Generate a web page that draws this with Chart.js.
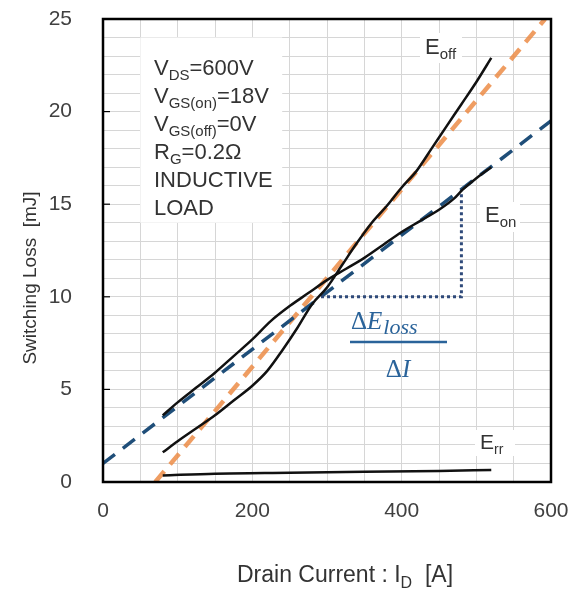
<!DOCTYPE html>
<html>
<head>
<meta charset="utf-8">
<script src="https://cdn.jsdelivr.net/npm/chart.js@4"></script>
<style>
  html, body { margin: 0; padding: 0; background: #fff; }
  canvas { display: block; }
</style>
</head>
<body>
<canvas id="lossChart" width="571" height="590"></canvas>
<script>
// drain current [A] / switching loss [mJ]
const currentOff = [80, 100, 125, 150, 175, 200, 220, 240, 260, 280, 300, 320, 340, 360, 380, 400, 420, 440, 460, 480, 500, 520];
const lossOff = [1.6, 2.2, 2.9, 3.6, 4.4, 5.2, 6.0, 7.1, 8.3, 9.6, 10.5, 11.7, 12.9, 14.0, 14.9, 15.9, 16.8, 18.0, 19.2, 20.4, 21.6, 22.9];

const currentOn = [80, 100, 125, 150, 175, 200, 225, 250, 275, 300, 325, 350, 375, 400, 425, 450, 470, 482, 500, 520];
const lossOn = [3.6, 4.3, 5.1, 5.9, 6.8, 7.7, 8.7, 9.5, 10.2, 10.9, 11.5, 12.1, 12.8, 13.5, 14.1, 14.7, 15.3, 15.8, 16.4, 17.0];

const currentRr = [80, 150, 250, 350, 450, 520];
const lossRr = [0.35, 0.45, 0.5, 0.55, 0.6, 0.65];

// straight fits
const fitOffI = [70, 592];
const fitOffE = [0, 25];
const fitOnI = [0, 600];
const fitOnE = [1.0, 19.5];

// slope triangle
const slopeI = [292, 480, 480];
const slopeE = [10, 10, 15.8];

const xTicks = [0, 200, 400, 600];
const yTicks = [0, 5, 10, 15, 20, 25];

function pts(xs, ys) {
  return xs.map((x, i) => ({ x: x, y: ys[i] }));
}

const sans = '"Liberation Sans", Arial, sans-serif';
const serif = '"Liberation Serif", "Times New Roman", serif';

// text with a subscript part
function subText(ctx, x, y, main, sub, rest, size, subSize) {
  ctx.font = size + 'px ' + sans;
  ctx.fillText(main, x, y);
  x += ctx.measureText(main).width;
  ctx.font = subSize + 'px ' + sans;
  ctx.fillText(sub, x, y + subSize * 0.35);
  x += ctx.measureText(sub).width;
  if (rest) {
    ctx.font = size + 'px ' + sans;
    ctx.fillText(rest, x, y);
  }
}

const decor = {
  id: 'decor',
  beforeDatasetsDraw(chart) {
    const ctx = chart.ctx;
    const xs = chart.scales.x, ys = chart.scales.y;
    ctx.save();
    // conditions box
    ctx.fillStyle = '#fff';
    const bx = xs.getPixelForValue(50), by = ys.getPixelForValue(24);
    ctx.fillRect(bx, by, xs.getPixelForValue(240) - bx, ys.getPixelForValue(14) - by);
    ctx.fillStyle = '#333';
    ctx.textBaseline = 'alphabetic';
    ctx.textAlign = 'left';
    const lx = 154;
    subText(ctx, lx, 75, 'V', 'DS', '=600V', 22, 15);
    subText(ctx, lx, 103, 'V', 'GS(on)', '=18V', 22, 15);
    subText(ctx, lx, 131, 'V', 'GS(off)', '=0V', 22, 15);
    subText(ctx, lx, 159, 'R', 'G', '=0.2\u03A9', 22, 15);
    ctx.font = '22px ' + sans;
    ctx.fillText('INDUCTIVE', lx, 187);
    ctx.fillText('LOAD', lx, 215);

    // curve labels
    ctx.fillStyle = '#fff';
    ctx.fillRect(420, 33, 42, 30);
    ctx.fillRect(480, 202, 40, 30);
    ctx.fillRect(475, 430, 40, 26);
    ctx.fillStyle = '#333';
    subText(ctx, 425, 54, 'E', 'off', '', 22, 15);
    subText(ctx, 485, 222, 'E', 'on', '', 22, 15);
    subText(ctx, 480, 449, 'E', 'rr', '', 21, 14);
    ctx.restore();
  },
  afterDraw(chart) {
    const ctx = chart.ctx;
    const a = chart.chartArea;
    const ys = chart.scales.y;
    ctx.save();
    // frame
    ctx.strokeStyle = '#000';
    ctx.lineWidth = 2.5;
    ctx.strokeRect(a.left, a.top, a.right - a.left, a.bottom - a.top);
    ctx.lineWidth = 1.2;
    yTicks.forEach(v => {
      const p = ys.getPixelForValue(v);
      ctx.beginPath();
      ctx.moveTo(a.left, p);
      ctx.lineTo(a.left + 7, p);
      ctx.stroke();
    });

    // axis titles
    ctx.fillStyle = '#333';
    ctx.textAlign = 'left';
    ctx.textBaseline = 'alphabetic';
    subText(ctx, 237, 582, 'Drain Current : I', 'D', '  [A]', 23, 16);
    ctx.translate(31, 278);
    ctx.rotate(-Math.PI / 2);
    ctx.textAlign = 'center';
    ctx.textBaseline = 'middle';
    ctx.font = '19px ' + sans;
    ctx.fillText('Switching Loss  [mJ]', 0, 0);
    ctx.setTransform(1, 0, 0, 1, 0, 0);

    // slope formula
    const blue = '#2A639A';
    ctx.fillStyle = blue;
    ctx.textAlign = 'left';
    ctx.textBaseline = 'alphabetic';
    let x = 351;
    ctx.font = '25px ' + serif;
    ctx.fillText('\u0394', x, 329);
    x += ctx.measureText('\u0394').width;
    ctx.font = 'italic 25px ' + serif;
    ctx.fillText('E', x, 329);
    x += ctx.measureText('E').width + 1;
    ctx.font = 'italic 22px ' + serif;
    ctx.fillText('loss', x, 334);
    ctx.strokeStyle = blue;
    ctx.lineWidth = 2.5;
    ctx.beginPath();
    ctx.moveTo(350, 342);
    ctx.lineTo(447, 342);
    ctx.stroke();
    ctx.font = '25px ' + serif;
    const dw = ctx.measureText('\u0394').width;
    ctx.font = 'italic 25px ' + serif;
    const iw = ctx.measureText('I').width;
    x = 398 - (dw + iw) / 2;
    ctx.font = '25px ' + serif;
    ctx.fillText('\u0394', x, 377);
    ctx.font = 'italic 25px ' + serif;
    ctx.fillText('I', x + dw, 377);
    ctx.restore();
  }
};

new Chart(document.getElementById('lossChart'), {
  type: 'scatter',
  data: {
    datasets: [
      { label: 'Eoff', data: pts(currentOff, lossOff), borderColor: '#111', borderWidth: 2.5, cubicInterpolationMode: 'monotone' },
      { label: 'Eon', data: pts(currentOn, lossOn), borderColor: '#111', borderWidth: 2.5, cubicInterpolationMode: 'monotone' },
      { label: 'Err', data: pts(currentRr, lossRr), borderColor: '#111', borderWidth: 2.5, cubicInterpolationMode: 'monotone' },
      { label: 'slope', data: pts(slopeI, slopeE), borderColor: '#2F4A7A', borderWidth: 3, borderDash: [3, 3] },
      { label: 'fitOn', data: pts(fitOnI, fitOnE), borderColor: '#1F4E79', borderWidth: 3.5, borderDash: [15, 10] },
      { label: 'fitOff', data: pts(fitOffI, fitOffE), borderColor: 'rgba(236,140,70,0.85)', borderWidth: 4.5, borderDash: [14, 9] }
    ].map(d => Object.assign(d, { showLine: true, pointRadius: 0, pointHoverRadius: 0, fill: false }))
  },
  options: {
    responsive: false,
    animation: false,
    devicePixelRatio: 1,
    layout: { padding: { left: 0, top: 19, right: 20, bottom: 0 } },
    plugins: {
      legend: { display: false },
      title: { display: false },
      tooltip: { enabled: false }
    },
    scales: {
      x: {
        type: 'linear',
        min: 0,
        max: 600,
        afterFit: s => { s.height = 108; },
        border: { display: false },
        // invisible tick marks give the label gap without widening the side padding
        grid: { color: '#d6d6d6', lineWidth: 1, drawTicks: true, tickLength: 17, tickColor: 'rgba(0,0,0,0)' },
        ticks: {
          stepSize: 50,
          autoSkip: false,
          maxRotation: 0,
          padding: 0,
          color: '#404040',
          font: { family: sans, size: 21 },
          callback: v => xTicks.includes(v) ? String(v) : ''
        }
      },
      y: {
        min: 0,
        max: 25,
        afterFit: s => { s.width = 103; },
        border: { display: false },
        grid: { color: '#d6d6d6', lineWidth: 1, drawTicks: true, tickLength: 31, tickColor: 'rgba(0,0,0,0)' },
        ticks: {
          stepSize: 1,
          autoSkip: false,
          padding: 0,
          color: '#404040',
          font: { family: sans, size: 21 },
          callback: v => yTicks.includes(v) ? String(v) : ''
        }
      }
    }
  },
  plugins: [decor]
});
</script>
</body>
</html>
